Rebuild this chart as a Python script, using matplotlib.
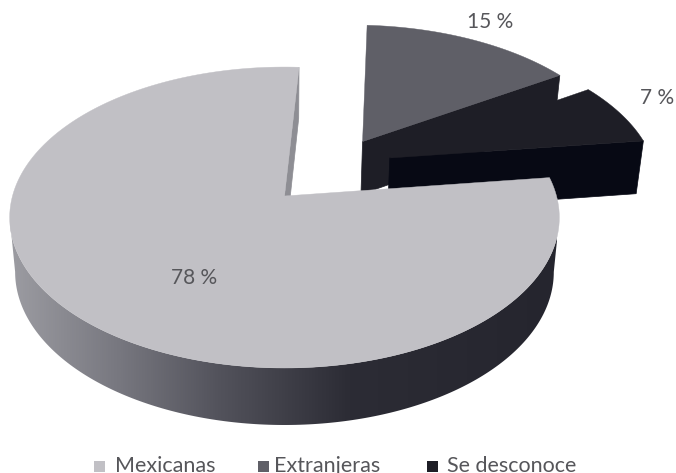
import numpy as np
import matplotlib
matplotlib.use("Agg")
import matplotlib.pyplot as plt
from matplotlib.colors import LinearSegmentedColormap
from matplotlib.patches import Polygon, Rectangle

categories = ["Mexicanas", "Extranjeras", "Se desconoce"]
values = [78, 15, 7]
labels = ["78 %", "15 %", "7 %"]
top_colors = ["#c1c0c5", "#5f5f67", "#1e1e26"]

W, H = 676, 473
CX, CY = 284.5, 196    # pie centre on the page
A, B = 272, 147.4      # radius across / along the view direction
K = 0.143              # perspective strength
DEPTH = 54
START = 86.5           # degrees, slices run clockwise from here
TEXT = "#56565a"

plt.rcParams["font.family"] = ["Lato", "DejaVu Sans"]


def project(x, y):
    # pie plane to page, nearer points spread out more
    w = 1 + K * y
    return CX + A * x / w, CY - B * y / w


def lower(px, py, y):
    # same point on the underside of the disc
    return CX - 2 + 0.98 * (px - CX + 2), py + DEPTH - 3 * y


def arc(a0, a1, off=(0, 0)):
    t = np.radians(np.linspace(a0, a1, 200))
    x, y = np.cos(t) + off[0], np.sin(t) + off[1]
    px, py = project(x, y)
    qx, qy = lower(px, py, y)
    return np.column_stack([px, py]), np.column_stack([qx, qy])


def apex(off=(0, 0)):
    px, py = project(off[0], off[1])
    qx, qy = lower(px, py, off[1])
    return (px, py), (qx, qy)


def cut_face(angle, off, color, z):
    top, bot = arc(angle, angle + 0.01, off)
    a_top, a_bot = apex(off)
    ax.add_patch(Polygon([a_top, top[0], bot[0], a_bot], fc=color, ec=color, lw=0.5, zorder=z))


def top_face(a0, a1, off, color, z):
    top, _ = arc(a0, a1, off)
    a_top, _ = apex(off)
    ax.add_patch(Polygon(np.vstack([[a_top], top]), fc=color, ec=color, lw=0.3, zorder=z))


fig = plt.figure(figsize=(W / 100, H / 100), dpi=100)
ax = fig.add_axes([0, 0, 1, 1])
ax.axis("off")

# slice angles from the values
ext_a0 = START
ext_a1 = ext_a0 - values[1] * 3.6
unk_a1 = ext_a1 - values[2] * 3.6
mex_a0 = unk_a1
mex_a1 = mex_a0 - values[0] * 3.6

ext_off = (0.303, 0.39)
unk_off = (0.402, 0.268)

# Extranjeras
cut_face(ext_a1, ext_off, "#1e1e26", 1)
top_face(ext_a1, ext_a0, ext_off, top_colors[1], 2)

# Se desconoce
cut_face(unk_a1, unk_off, "#070914", 3)
top_face(unk_a1, ext_a1, unk_off, top_colors[2], 4)

# Mexicanas: inner wall, shaded rim, then the top
cut_face(mex_a1, (0, 0), "#8e8e94", 5)
# rim runs between the two points where the outline turns, so its sides stay tangent
rim_top, rim_bot = arc(188.2, 351.8)
rim = Polygon(np.vstack([rim_top, rim_bot[::-1]]), fc="none", ec="none", zorder=6)
ax.add_patch(rim)
cmap = LinearSegmentedColormap.from_list(
    "rim", [(0, "#9c9ca2"), (0.2, "#77777f"), (0.38, "#53535c"), (0.62, "#2c2c35"), (1, "#25252e")]
)
im = ax.imshow(np.linspace(0, 1, 512)[None, :], extent=(10, 557, 440, 150), aspect="auto",
               cmap=cmap, zorder=6, interpolation="bilinear")
im.set_clip_path(rim)
top_face(mex_a1, mex_a0, (0, 0), top_colors[0], 7)

ax.set_xlim(0, W)
ax.set_ylim(H, 0)

# value labels
ax.text(194, 278, labels[0], ha="center", va="center", fontsize=15, color=TEXT, zorder=8)
ax.text(490, 22, labels[1], ha="center", va="center", fontsize=15, color=TEXT, zorder=8)
ax.text(657, 98, labels[2], ha="center", va="center", fontsize=15, color=TEXT, zorder=8)

# legend row, the page ends right under the text
box_x = [94, 258, 427]
text_x = [115, 274, 447]
for name, color, bx, tx in zip(categories, top_colors, box_x, text_x):
    ax.add_patch(Rectangle((bx, 461), 11, 11, fc=color, ec="none", zorder=8))
    ax.text(tx, 472, name, ha="left", va="baseline", fontsize=15.5, color=TEXT, zorder=8)

fig.savefig("out.png", dpi=100)
